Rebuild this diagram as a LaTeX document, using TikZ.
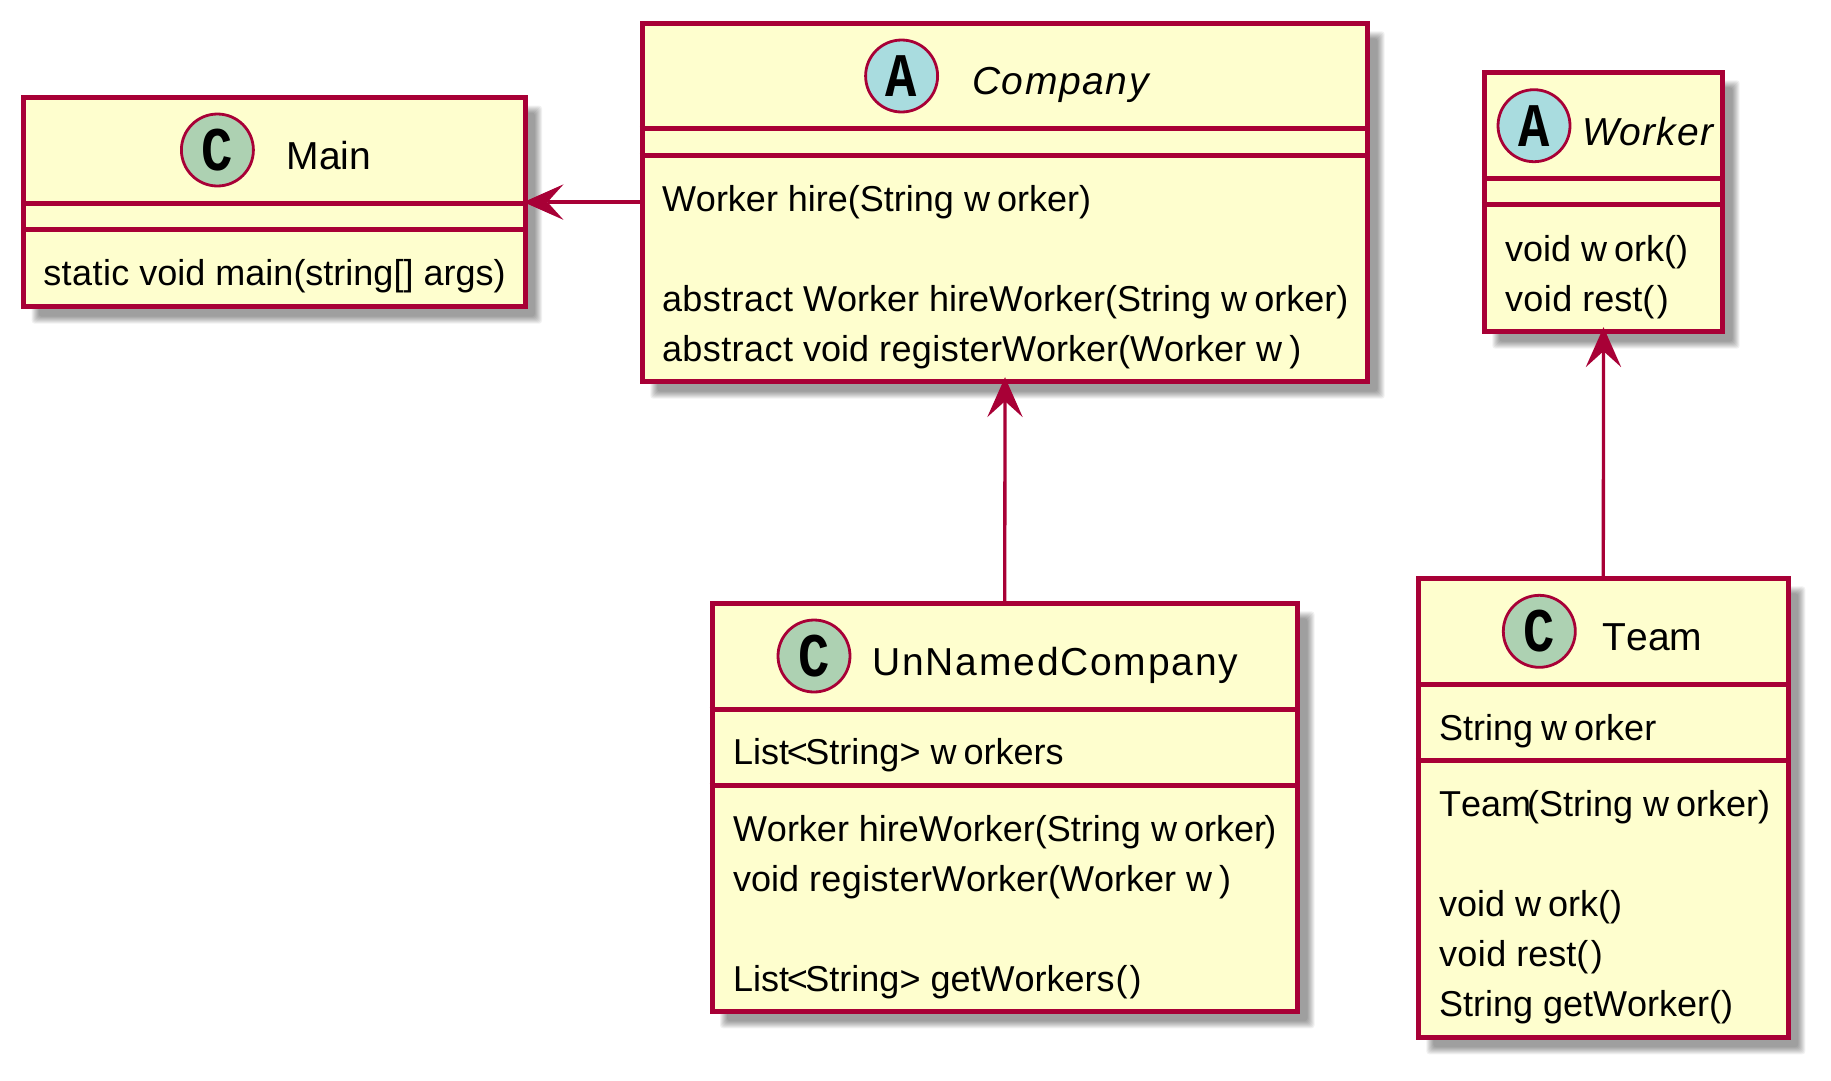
\documentclass[tikz,border=0pt]{standalone}
\usepackage{fontspec}
\usetikzlibrary{arrows.meta,calc}
\setmainfont{Liberation Sans}[Kerning=Off]
\newfontfamily\glyphfont{Liberation Mono}[FakeStretch=0.84]
\definecolor{umlline}{HTML}{A80036}
\definecolor{umlfill}{HTML}{FEFECE}
\definecolor{circC}{HTML}{ADD1B2}
\definecolor{circA}{HTML}{A9DCDF}
\newcommand{\wk}{w\kern0.2em }
\newcommand{\kk}[1]{\kern#1pt }
\newcommand{\wider}[1]{{\addfontfeature{LetterSpace=1.2}#1}}
\newcommand{\classbox}[7]{%
  % name, x1, y1, x2, y2, separator a, separator b
  \pgfmathsetmacro{\cxx}{(#2+#4)/2}\pgfmathsetmacro{\cyy}{(#3+#5)/2}%
  \pgfmathsetmacro{\www}{#4-#2}\pgfmathsetmacro{\hhh}{#5-#3}%
  \foreach \g in {0,1,2,3,4,5,6,7}{%
    \fill[black,opacity=0.055,rounded corners=3pt]
      (#2+15-\g,#3+15-\g) rectangle (#4+10+\g,#5+10+\g);}%
  \node[classnode,minimum width=\www pt,minimum height=\hhh pt] (#1) at (\cxx,\cyy) {};
  \draw[sepline] (#1.west |- 0,#6) -- (#1.east |- 0,#6);
  \draw[sepline] (#1.west |- 0,#7) -- (#1.east |- 0,#7);
}
\tikzset{
  x=1pt,y=-1pt,
  classnode/.style={draw=umlline,fill=umlfill,line width=5pt,inner sep=0pt,rectangle},
  sepline/.style={draw=umlline,line width=5pt},
  member/.style={anchor=base west,inner sep=0pt,outer sep=0pt,yshift=-1pt,font=\fontsize{36}{40}\selectfont,text=black},
  titletext/.style={anchor=base west,inner sep=0pt,outer sep=0pt,yshift=-1pt,font=\fontsize{39}{44}\selectfont,text=black},
  spotC/.style={circle,draw=umlline,fill=circC,line width=2.8pt,minimum size=72pt,inner sep=0pt,font=\glyphfont\bfseries\fontsize{62}{62}\selectfont},
  spotA/.style={circle,draw=umlline,fill=circA,line width=2.8pt,minimum size=72pt,inner sep=0pt,font=\glyphfont\bfseries\fontsize{62}{62}\selectfont},
  relation/.style={draw=umlline,line width=3.3pt,-{Stealth[length=40pt,width=35.5pt,inset=16pt,line width=0pt,fill=umlline]}},
}
\begin{document}
\begin{tikzpicture}
\useasboundingbox (0,0) rectangle (1831,1080);
\fill[white] (0,0) rectangle (1831,1080);

% Main
\classbox{main}{23.7}{97.5}{525}{306.7}{203}{229.3}
\node[spotC] (mainspot) at (217.4,150) {C};
\node[titletext] (maintitle) at (286.6,168) {Main};
\node[member] (m1) at (43.3,284.3) {\wider{static} void main(string[] args)};

% Company
\classbox{company}{642.3}{23.3}{1367.7}{381.7}{128.3}{155}
\node[spotA] (companyspot) at (901.6,76) {A};
\node[titletext] (companytitle) at (972.3,93.3) {\itshape\addfontfeature{LetterSpace=4}Company};
\node[member] (c1) at (662,210) {Worker hire(String \wk orker)};
\node[member] (c2) at (662,310) {\wider{abstract} Worker hireWorker(String \wk orker)};
\node[member] (c3) at (662,360) {\wider{abstract} void \wider{register}Worker(Worker \wk)};

% Worker
\classbox{worker}{1484.3}{72.3}{1722.7}{331.7}{178.3}{204.3}
\node[spotA] (workerspot) at (1534,125.7) {A};
\node[titletext] (workertitle) at (1582,144.3) {\itshape\addfontfeature{LetterSpace=3}Worker};
\node[member] (w1) at (1505,260.5) {void \wk ork()};
\node[member] (w2) at (1505,310.5) {\wider{void} rest(\kk{2.5})};

% UnNamedCompany
\classbox{unnamed}{712}{603.3}{1297.5}{1011.3}{709.3}{785.3}
\node[spotC] (unnamedspot) at (814,656) {C};
\node[titletext] (unnamedtitle) at (872.5,674.3) {\addfontfeature{LetterSpace=4.6}UnNamedCompany};
\node[member] (u1) at (733,763.3) {List\kk{-2.3}<\kk{-2.3}String> \wk orkers};
\node[member] (u2) at (733,840) {Worker hireWorker(String \wk orker\kk{-2})};
\node[member] (u3) at (733,890) {void \wider{register}Worker(Worker \wk)};
\node[member] (u4) at (733,990) {List\kk{-2.3}<\kk{-2.3}String> getWorkers\kk{1}(\kk{2})};

% Team
\classbox{team}{1418.3}{578.3}{1788.3}{1037.3}{684.3}{760.3}
\node[spotC] (teamspot) at (1539.3,631.3) {C};
\node[titletext] (teamtitle) at (1602.7,649.3) {Team};
\node[member] (t1) at (1439,739.3) {String \kk{-2}\wk orker};
\node[member] (t2) at (1439,815.7) {Team\kk{-4}(String \wk orker)};
\node[member] (t3) at (1439,915) {void \wk ork()};
\node[member] (t4) at (1439,965) {\wider{void} rest(\kk{2.5})};
\node[member] (t5) at (1439,1015) {String getWorker()};

% Relations
\draw[relation,shorten >=-4pt] (company.west |- main.east) -- (main.east);
\draw[relation,shorten >=-7pt] (unnamed.north) -- (company.south);
\draw[relation,shorten >=-7pt] (team.north) -- (worker.south);
\end{tikzpicture}
\end{document}
